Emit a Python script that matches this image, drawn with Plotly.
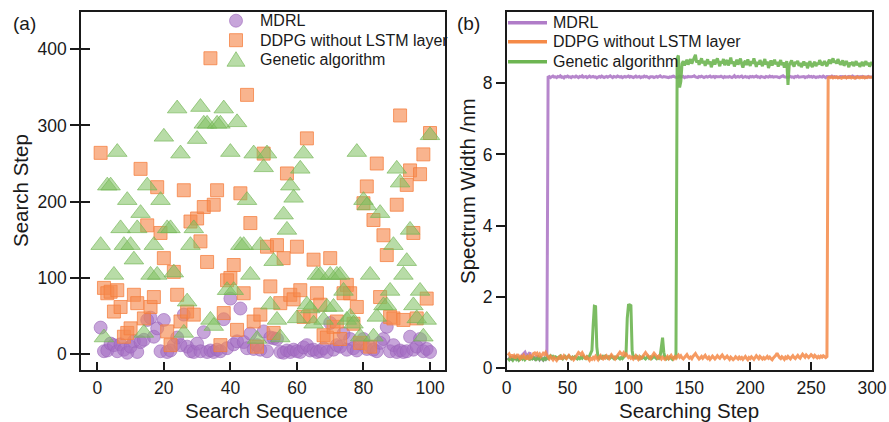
import plotly.graph_objects as go

# ---------------- panel (a) data ----------------
search_sequence = list(range(1, 101))

mdrl_steps = [35, 4, 5, 14, 12, 4, 13, 6, 2, 10,
              17, 3, 16, 19, 45, 48, 23, 34, 4, 45,
              3, 5, 12, 22, 12, 52, 10, 4, 3, 14,
              4, 29, 3, 5, 3, 6, 4, 46, 8, 73,
              13, 17, 60, 16, 8, 27, 7, 12, 6, 30,
              4, 22, 21, 20, 3, 2, 5, 3, 6, 4,
              3, 9, 12, 5, 6, 3, 4, 8, 3, 41,
              6, 12, 10, 27, 6, 20, 8, 5, 14, 20,
              7, 10, 6, 4, 15, 20, 36, 4, 12, 3,
              5, 3, 4, 23, 6, 10, 20, 4, 7, 3]

ddpg_steps = [264, 87, 80, 82, 56, 84, 62, 23, 28, 34,
              78, 67, 243, 47, 169, 62, 75, 219, 159, 126,
              30, 12, 108, 78, 43, 215, 56, 174, 52, 178,
              148, 193, 121, 388, 196, 215, 12, 54, 97, 100,
              117, 32, 211, 80, 340, 172, 43, 10, 52, 263,
              141, 89, 28, 143, 67, 126, 237, 78, 72, 141,
              84, 49, 283, 50, 124, 80, 65, 25, 22, 126,
              36, 43, 20, 80, 91, 80, 40, 62, 15, 198,
              220, 10, 176, 250, 75, 156, 130, 49, 47, 196,
              313, 45, 222, 241, 159, 47, 236, 262, 73, 290]

ga_steps = [143, 22, 221, 221, 104, 265, 165, 143, 202, 143,
            124, 165, 185, 28, 221, 104, 143, 104, 202, 285,
            165, 165, 107, 322, 263, 28, 69, 143, 165, 282,
            324, 302, 302, 45, 37, 302, 302, 322, 84, 265,
            84, 304, 143, 143, 202, 104, 263, 20, 143, 245,
            263, 65, 122, 45, 22, 183, 163, 221, 205, 47,
            243, 263, 65, 60, 40, 104, 104, 45, 62, 104,
            62, 104, 104, 83, 45, 49, 40, 265, 23, 202,
            195, 104, 23, 49, 185, 64, 64, 83, 143, 243,
            225, 104, 122, 163, 64, 47, 83, 23, 45, 287]

# ---------------- panel (b) data ----------------
mdrl_width = [
    0.30, 0.25, 0.33, 0.22, 0.28, 0.35, 0.24, 0.31, 0.27, 0.22,
    0.30, 0.26, 0.38, 0.42, 0.45, 0.36, 0.28, 0.40, 0.44, 0.31,
    0.25, 0.33, 0.29, 0.22, 0.35, 0.28, 0.24, 0.30, 0.26, 0.23,
    0.28, 0.25, 0.30, 8.17, 8.19, 8.16, 8.18, 8.20, 8.17, 8.18,
    8.16, 8.19, 8.18, 8.21, 8.17, 8.18, 8.15, 8.19, 8.18, 8.20,
    8.17, 8.18, 8.16, 8.19, 8.18, 8.17, 8.20, 8.18, 8.16, 8.19,
    8.18, 8.21, 8.17, 8.18, 8.19, 8.16, 8.18, 8.20, 8.17, 8.18,
    8.19, 8.17, 8.18, 8.15, 8.18, 8.19, 8.17, 8.20, 8.18, 8.16,
    8.18, 8.19, 8.17, 8.18, 8.21, 8.18, 8.16, 8.19, 8.18, 8.17,
    8.20, 8.18, 8.17, 8.19, 8.16, 8.18, 8.19, 8.17, 8.18, 8.20,
    8.17, 8.19, 8.18, 8.16, 8.18, 8.20, 8.17, 8.18, 8.19, 8.16,
    8.18, 8.17, 8.20, 8.18, 8.19, 8.17, 8.15, 8.18, 8.19, 8.18,
    8.16, 8.18, 8.19, 8.17, 8.18, 8.21, 8.18, 8.17, 8.19, 8.18,
    8.19, 8.18, 8.16, 8.18, 8.17, 8.19, 8.20, 8.18, 8.17, 8.16,
    8.18, 8.20, 8.17, 8.18, 8.19, 8.16, 8.18, 8.17, 8.19, 8.18,
    8.17, 8.18, 8.19, 8.21, 8.18, 8.17, 8.16, 8.19, 8.18, 8.20,
    8.18, 8.16, 8.18, 8.19, 8.17, 8.18, 8.20, 8.17, 8.18, 8.19,
    8.16, 8.19, 8.18, 8.17, 8.18, 8.20, 8.18, 8.16, 8.19, 8.17,
    8.18, 8.17, 8.19, 8.18, 8.16, 8.18, 8.21, 8.17, 8.18, 8.19,
    8.17, 8.18, 8.20, 8.16, 8.18, 8.19, 8.17, 8.18, 8.16, 8.19,
    8.18, 8.19, 8.17, 8.18, 8.20, 8.17, 8.18, 8.16, 8.19, 8.18,
    8.17, 8.16, 8.19, 8.18, 8.17, 8.20, 8.18, 8.19, 8.17, 8.18,
    8.19, 8.18, 8.17, 8.16, 8.18, 8.19, 8.21, 8.18, 8.17, 8.18,
    8.16, 8.18, 8.19, 8.17, 8.18, 8.16, 8.19, 8.18, 8.20, 8.17,
    8.18, 8.17, 8.18, 8.19, 8.16, 8.18, 8.17, 8.20, 8.18, 8.19,
    8.17, 8.19, 8.18, 8.16, 8.18, 8.17, 8.19, 8.18, 8.17, 8.20,
    8.18, 8.16, 8.19, 8.18, 8.17, 8.18, 8.20, 8.17, 8.19, 8.18,
    8.17, 8.18, 8.16, 8.19, 8.18, 8.17, 8.18, 8.19, 8.16, 8.18,
    8.19, 8.17, 8.18, 8.20, 8.17, 8.18, 8.16, 8.19, 8.18, 8.17,
    8.18, 8.19, 8.17, 8.18, 8.16, 8.18, 8.19, 8.17, 8.18, 8.18]

ddpg_width = [
    0.36, 0.40, 0.33, 0.38, 0.30, 0.35, 0.28, 0.34, 0.39, 0.31,
    0.27, 0.33, 0.30, 0.36, 0.29, 0.25, 0.32, 0.28, 0.35, 0.30,
    0.34, 0.41, 0.43, 0.38, 0.42, 0.36, 0.40, 0.33, 0.37, 0.42,
    0.39, 0.44, 0.37, 0.31, 0.27, 0.33, 0.29, 0.24, 0.30, 0.26,
    0.22, 0.28, 0.31, 0.25, 0.33, 0.29, 0.35, 0.30, 0.27, 0.32,
    0.36, 0.31, 0.27, 0.30, 0.24, 0.28, 0.33, 0.40, 0.44, 0.41,
    0.38, 0.43, 0.36, 0.29, 0.25, 0.31, 0.27, 0.22, 0.28, 0.25,
    0.30, 0.26, 0.33, 0.29, 0.24, 0.31, 0.35, 0.28, 0.26, 0.32,
    0.29, 0.35, 0.31, 0.27, 0.33, 0.38, 0.34, 0.30, 0.26, 0.31,
    0.37, 0.42, 0.45, 0.41, 0.38, 0.43, 0.36, 0.40, 0.35, 0.30,
    0.33, 0.28, 0.31, 0.26, 0.30, 0.35, 0.29, 0.25, 0.32, 0.27,
    0.30, 0.36, 0.41, 0.44, 0.39, 0.35, 0.30, 0.27, 0.32, 0.36,
    0.42, 0.38, 0.33, 0.29, 0.34, 0.30, 0.26, 0.31, 0.28, 0.25,
    0.29, 0.33, 0.27, 0.31, 0.36, 0.30, 0.26, 0.32, 0.28, 0.33,
    0.37, 0.31, 0.35, 0.29, 0.26, 0.30, 0.34, 0.38, 0.32, 0.28,
    0.31, 0.27, 0.33, 0.37, 0.41, 0.35, 0.30, 0.26, 0.29, 0.33,
    0.28, 0.32, 0.36, 0.30, 0.27, 0.31, 0.25, 0.29, 0.34, 0.30,
    0.26, 0.30, 0.35, 0.31, 0.28, 0.33, 0.37, 0.32, 0.27, 0.30,
    0.34, 0.29, 0.25, 0.31, 0.28, 0.24, 0.27, 0.32, 0.29, 0.26,
    0.31, 0.27, 0.30, 0.25, 0.29, 0.33, 0.28, 0.24, 0.30, 0.27,
    0.32, 0.28, 0.25, 0.30, 0.35, 0.31, 0.27, 0.33, 0.29, 0.26,
    0.30, 0.26, 0.29, 0.33, 0.28, 0.31, 0.27, 0.24, 0.29, 0.32,
    0.36, 0.42, 0.35, 0.30, 0.27, 0.32, 0.29, 0.25, 0.31, 0.28,
    0.33, 0.29, 0.26, 0.31, 0.35, 0.30, 0.27, 0.32, 0.36, 0.31,
    0.28, 0.34, 0.39, 0.35, 0.31, 0.37, 0.33, 0.30, 0.34, 0.38,
    0.35, 0.31, 0.36, 0.32, 0.29, 0.33, 0.30, 0.34, 0.31, 0.35,
    0.32, 0.30, 0.33, 8.15, 8.17, 8.16, 8.18, 8.15, 8.17, 8.16,
    8.18, 8.15, 8.17, 8.16, 8.14, 8.17, 8.16, 8.18, 8.15, 8.17,
    8.16, 8.18, 8.15, 8.17, 8.16, 8.14, 8.17, 8.18, 8.16, 8.15,
    8.17, 8.16, 8.18, 8.15, 8.17, 8.16, 8.18, 8.17, 8.15, 8.16]

ga_width = [
    0.28, 0.24, 0.30, 0.26, 0.22, 0.27, 0.31, 0.25, 0.29, 0.23,
    0.27, 0.31, 0.26, 0.30, 0.24, 0.28, 0.32, 0.27, 0.25, 0.29,
    0.26, 0.30, 0.28, 0.24, 0.27, 0.31, 0.25, 0.29, 0.26, 0.23,
    0.28, 0.25, 0.30, 0.27, 0.32, 0.35, 0.30, 0.33, 0.29, 0.32,
    0.30, 0.27, 0.31, 0.34, 0.29, 0.26, 0.30, 0.33, 0.28, 0.31,
    0.34, 0.30, 0.27, 0.31, 0.28, 0.32, 0.29, 0.26, 0.30, 0.27,
    0.31, 0.28, 0.33, 0.30, 0.27, 0.32, 0.29, 0.34, 0.40, 0.50,
    1.20, 1.74, 1.73, 0.60, 0.30, 0.27, 0.32, 0.29, 0.33, 0.30,
    0.34, 0.31, 0.28, 0.32, 0.29, 0.33, 0.30, 0.27, 0.31, 0.28,
    0.32, 0.29, 0.26, 0.30, 0.27, 0.31, 0.34, 0.40, 1.40, 1.77,
    1.78, 1.76, 0.50, 0.28, 0.32, 0.29, 0.33, 0.30, 0.27, 0.31,
    0.28, 0.32, 0.29, 0.26, 0.30, 0.33, 0.28, 0.31, 0.27, 0.30,
    0.34, 0.30, 0.27, 0.31, 0.28, 0.33, 0.60, 0.86, 0.45, 0.29,
    0.26, 0.30, 0.27, 0.31, 0.28, 0.25, 0.29, 0.31, 0.30, 8.70,
    8.78, 7.88, 8.05, 8.55, 8.62, 8.50, 8.58, 8.66, 8.52, 8.60,
    8.68, 8.55, 8.62, 8.72, 8.80, 8.58, 8.64, 8.52, 8.60, 8.70,
    8.56, 8.63, 8.49, 8.58, 8.67, 8.54, 8.61, 8.45, 8.57, 8.66,
    8.53, 8.60, 8.70, 8.58, 8.48, 8.62, 8.56, 8.68, 8.51, 8.59,
    8.65, 8.50, 8.58, 8.72, 8.55, 8.61, 8.47, 8.57, 8.66, 8.52,
    8.60, 8.69, 8.54, 8.44, 8.58, 8.63, 8.51, 8.67, 8.56, 8.49,
    8.62, 8.55, 8.70, 8.58, 8.46, 8.60, 8.53, 8.65, 8.57, 8.48,
    8.59, 8.68, 8.52, 8.61, 8.43, 8.56, 8.64, 8.50, 8.58, 8.66,
    8.53, 8.60, 8.47, 8.57, 8.65, 8.51, 8.59, 8.44, 8.55, 8.62,
    7.95, 8.50, 8.58, 8.64, 8.52, 8.47, 8.60, 8.55, 8.63, 8.49,
    8.57, 8.45, 8.53, 8.61, 8.50, 8.58, 8.42, 8.56, 8.62, 8.51,
    8.46, 8.55, 8.60, 8.48, 8.57, 8.52, 8.65, 8.58, 8.50, 8.56,
    8.62, 8.54, 8.48, 8.59, 8.66, 8.55, 8.61, 8.70, 8.58, 8.63,
    8.55, 8.68, 8.60, 8.52, 8.57, 8.64, 8.49, 8.56, 8.62, 8.54,
    8.45, 8.58, 8.52, 8.60, 8.48, 8.55, 8.62, 8.50, 8.57, 8.46,
    8.53, 8.60, 8.48, 8.56, 8.62, 8.51, 8.58, 8.47, 8.55, 8.60]

series_names = ["MDRL", "DDPG without LSTM layer", "Genetic algorithm"]
a_xticks = [0, 20, 40, 60, 80, 100]
a_yticks = [0, 100, 200, 300, 400]
b_xticks = [0, 50, 100, 150, 200, 250, 300]
b_yticks = [0, 2, 4, 6, 8]

# ---------------- styling ----------------
W, H = 889, 422
FONT = "Liberation Sans, Arial, sans-serif"
INK = "#1a1a1a"
PURPLE = "#B07CC8"
ORANGE = "#F58A48"
GREEN = "#6DB552"

C_FILL = "rgba(165,110,195,0.62)"
C_LINE = "rgba(155,100,185,0.75)"
S_FILL = "rgba(246,138,78,0.64)"
S_LINE = "rgba(245,125,60,0.75)"
T_FILL = "rgba(128,192,98,0.56)"
T_LINE = "rgba(115,182,85,0.65)"

TICK_SIZE = 17.5
TITLE_SIZE = 20.5
LEG_SIZE = 16

fig = go.Figure()

fig.add_trace(go.Scatter(
    x=search_sequence, y=mdrl_steps, mode="markers", name=series_names[0],
    marker=dict(symbol="circle", size=13, color=C_FILL, line=dict(width=0.8, color=C_LINE)),
    xaxis="x", yaxis="y", showlegend=False))
fig.add_trace(go.Scatter(
    x=search_sequence, y=ddpg_steps, mode="markers", name=series_names[1],
    marker=dict(symbol="square", size=13, color=S_FILL, line=dict(width=1, color=S_LINE)),
    xaxis="x", yaxis="y", showlegend=False))
fig.add_trace(go.Scatter(
    x=search_sequence, y=ga_steps, mode="markers", name=series_names[2],
    marker=dict(symbol="triangle-up", size=17, color=T_FILL, line=dict(width=1, color=T_LINE)),
    xaxis="x", yaxis="y", showlegend=False))

# empty trace so the inner-tick overlay axis is drawn
fig.add_trace(go.Scatter(x=[], y=[], xaxis="x", yaxis="y3", showlegend=False))

steps_m = list(range(1, len(mdrl_width) + 1))
steps_d = list(range(1, len(ddpg_width) + 1))
steps_g = list(range(1, len(ga_width) + 1))
fig.add_trace(go.Scatter(x=steps_m, y=mdrl_width, mode="lines", name=series_names[0],
                         showlegend=False, line=dict(color=PURPLE, width=3), opacity=0.9,
                         xaxis="x2", yaxis="y2"))
fig.add_trace(go.Scatter(x=steps_g, y=ga_width, mode="lines", name=series_names[2],
                         showlegend=False, line=dict(color=GREEN, width=3), opacity=0.9,
                         xaxis="x2", yaxis="y2"))
fig.add_trace(go.Scatter(x=steps_d, y=ddpg_width, mode="lines", name=series_names[1],
                         showlegend=False, line=dict(color=ORANGE, width=3), opacity=0.85,
                         xaxis="x2", yaxis="y2"))

axis_common = dict(showgrid=False, zeroline=False, showline=True, mirror=True,
                   linecolor=INK, linewidth=1.5, tickcolor=INK, tickwidth=1.5,
                   tickfont=dict(family=FONT, size=TICK_SIZE, color=INK))

fig.update_layout(
    width=W, height=H,
    margin=dict(l=0, r=0, t=12, b=52, autoexpand=False),
    paper_bgcolor="white", plot_bgcolor="white",
    font=dict(family=FONT, color=INK),
    showlegend=False,
    xaxis=dict(domain=[81 / W, 445 / W], range=[-4.9, 104.5], anchor="y",
               tickvals=a_xticks, ticks="inside", ticklen=8,
               ticklabelstandoff=1, **axis_common),
    yaxis=dict(domain=[0, 1], range=[-20.6, 448.6], anchor="x",
               tickvals=a_yticks, ticks="outside", ticklen=9, **axis_common),
    yaxis3=dict(overlaying="y", anchor="x", side="left", range=[-20.6, 448.6],
                tickvals=a_yticks, ticks="inside", ticklen=9, tickwidth=1.5,
                tickcolor=INK, showticklabels=False, showgrid=False,
                zeroline=False, showline=False),
    xaxis2=dict(domain=[506.7 / W, 872 / W], range=[0, 300], anchor="y2",
                tickvals=b_xticks, ticks="inside", ticklen=8,
                ticklabelstandoff=1, **axis_common),
    yaxis2=dict(domain=[0, 1], range=[-0.05, 10], anchor="x2",
                tickvals=b_yticks, ticks="outside", ticklen=9, **axis_common),
)


def px_x(px):
    return px / W


def px_y(py):
    return (370 - py) / 358.0


ann = []
shapes = []


def label(text, x, y, size, angle=0, xanchor="center"):
    ann.append(dict(text=text, x=x, y=y, xref="paper", yref="paper", showarrow=False,
                    textangle=angle, xanchor=xanchor, yanchor="middle",
                    font=dict(family=FONT, size=size, color=INK)))


label("(a)", px_x(24), px_y(24), 19)
label("(b)", px_x(468), px_y(24), 19)
label("Search Step", px_x(20), 0.5, TITLE_SIZE, -90)
label("Search Sequence", px_x(266), px_y(410), TITLE_SIZE)
label("Searching Step", px_x(689), px_y(410), TITLE_SIZE)
label("Spectrum Width /nm", px_x(467), 0.5, TITLE_SIZE, -90)

# ---- legend for panel (a): marker keys ----
kx = 236
rows_a = [20.7, 40.2, 59.7]
r = 6.5
shapes.append(dict(type="circle", xref="paper", yref="paper",
                   x0=px_x(kx - r), x1=px_x(kx + r), y0=px_y(rows_a[0] + r), y1=px_y(rows_a[0] - r),
                   fillcolor=C_FILL, line=dict(color=C_LINE, width=0.8)))
shapes.append(dict(type="rect", xref="paper", yref="paper",
                   x0=px_x(kx - r), x1=px_x(kx + r), y0=px_y(rows_a[1] + r), y1=px_y(rows_a[1] - r),
                   fillcolor=S_FILL, line=dict(color=S_LINE, width=1)))
ty = rows_a[2]
tri = "M {:.5f},{:.5f} L {:.5f},{:.5f} L {:.5f},{:.5f} Z".format(
    px_x(kx - 9), px_y(ty + 6.5), px_x(kx + 9), px_y(ty + 6.5), px_x(kx), px_y(ty - 8))
shapes.append(dict(type="path", xref="paper", yref="paper", path=tri,
                   fillcolor=T_FILL, line=dict(color=T_LINE, width=1)))
for name, py in zip(series_names, rows_a):
    label(name, px_x(258), px_y(py), LEG_SIZE, xanchor="left")

# ---- legend for panel (b): line keys ----
rows_b = [(series_names[0], PURPLE, 22.7), (series_names[1], ORANGE, 41.7),
          (series_names[2], GREEN, 61.7)]
for name, col, py in rows_b:
    shapes.append(dict(type="line", xref="paper", yref="paper",
                       x0=px_x(508), x1=px_x(547), y0=px_y(py), y1=px_y(py),
                       line=dict(color=col, width=3.5)))
    label(name, px_x(551), px_y(py), LEG_SIZE, xanchor="left")

fig.update_layout(annotations=ann, shapes=shapes)

fig.write_html("out.html")
